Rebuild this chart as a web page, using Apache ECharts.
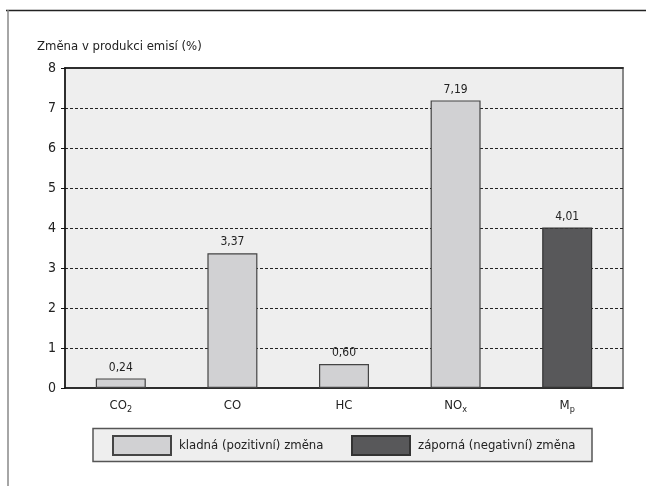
<!DOCTYPE html>
<html>
<head>
<meta charset="utf-8">
<script src="https://cdn.jsdelivr.net/npm/echarts@6/dist/echarts.min.js"></script>
<style>
  html, body { margin: 0; padding: 0; background: #fff; }
  #chart { width: 646px; height: 486px; }
</style>
</head>
<body>
<div id="chart"></div>
<script>
// Emission categories (rich-text keys give the subscripts)
const categories = ['CO{s|2}', 'CO', 'HC', 'NO{s|x}', 'M{s|p}'];
// Positive change (%) per category; '-' where the category is negative
const positiveValues = [0.24, 3.37, 0.60, 7.19, '-'];
// Negative change (%) shown as magnitude
const negativeValues = ['-', '-', '-', '-', 4.01];
const yTicks = [0, 1, 2, 3, 4, 5, 6, 7, 8];
const seriesNames = ['kladná (pozitivní) změna', 'záporná (negativní) změna'];
const axisTitle = 'Změna v produkci emisí (%)';

const FONT = "'DejaVu Sans Condensed', 'Liberation Sans Narrow', 'Roboto', sans-serif";
const chart = echarts.init(document.getElementById('chart'), null, { renderer: 'canvas' });

const valueLabel = {
  show: true,
  position: 'top',
  distance: 5,
  color: '#222',
  fontFamily: FONT,
  fontSize: 12,
  formatter: p => Number(p.value).toFixed(2).replace('.', ',')
};

chart.setOption({
  backgroundColor: '#ffffff',
  animation: false,
  textStyle: { fontFamily: FONT },
  title: {
    text: axisTitle,
    left: 37,
    top: 40,
    padding: 0,
    textStyle: { fontFamily: FONT, fontSize: 13, fontWeight: 'normal', color: '#222' }
  },
  graphic: [
    // outer frame: top rule and left rule
    { type: 'line', shape: { x1: 6, y1: 10.5, x2: 646, y2: 10.5 }, style: { stroke: '#222', lineWidth: 1.5 }, z: 0 },
    { type: 'line', shape: { x1: 8, y1: 10, x2: 8, y2: 486 }, style: { stroke: '#888', lineWidth: 1.5 }, z: 0 },
    // legend box
    { type: 'rect', shape: { x: 93, y: 428.5, width: 499, height: 33 }, style: { fill: '#eeeeee', stroke: '#555', lineWidth: 1.5 }, z: 0 }
  ],
  legend: [
    {
      data: [seriesNames[0]], left: 112, top: 435, padding: 0, itemWidth: 58, itemHeight: 19,
      icon: 'rect', textStyle: { fontFamily: FONT, fontSize: 13, color: '#222', padding: [0, 0, 0, 3] }
    },
    {
      data: [seriesNames[1]], left: 351, top: 435, padding: 0, itemWidth: 58, itemHeight: 19,
      icon: 'rect', textStyle: { fontFamily: FONT, fontSize: 13, color: '#222', padding: [0, 0, 0, 3] }
    }
  ],
  grid: {
    left: 65, right: 23, top: 68, bottom: 98,
    show: true, backgroundColor: '#eeeeee', borderColor: '#888', borderWidth: 2
  },
  xAxis: [
    {
      type: 'category',
      data: categories,
      axisLine: { show: true, lineStyle: { color: '#111', width: 1.5 } },
      axisTick: { show: false },
      axisLabel: {
        margin: 10,
        color: '#222',
        fontFamily: FONT,
        fontSize: 13,
        lineHeight: 16,
        rich: {
          s: { fontSize: 9, fontFamily: FONT, color: '#222', verticalAlign: 'bottom', lineHeight: 16 }
        }
      }
    },
    {
      type: 'category',
      position: 'top',
      data: categories,
      axisLine: { show: true, lineStyle: { color: '#111', width: 1.5 } },
      axisTick: { show: false },
      axisLabel: { show: false }
    }
  ],
  yAxis: {
    type: 'value',
    min: yTicks[0],
    max: yTicks[yTicks.length - 1],
    interval: 1,
    axisLine: { show: true, lineStyle: { color: '#111', width: 1.5 } },
    axisTick: { show: true, length: 4, lineStyle: { color: '#111' } },
    axisLabel: { margin: 9, color: '#222', fontFamily: FONT, fontSize: 14 },
    splitLine: {
      show: true,
      showMinLine: false,
      showMaxLine: false,
      lineStyle: { color: '#222', width: 1, type: [3, 2] }
    }
  },
  series: [
    {
      name: seriesNames[0],
      type: 'bar',
      stack: 'change',
      barWidth: 50,
      data: positiveValues,
      itemStyle: { color: '#d1d1d3', borderColor: '#444', borderWidth: 1.2 },
      label: valueLabel
    },
    {
      name: seriesNames[1],
      type: 'bar',
      stack: 'change',
      barWidth: 50,
      data: negativeValues,
      itemStyle: { color: '#58585a', borderColor: '#333', borderWidth: 1.2 },
      label: valueLabel
    }
  ]
});
</script>
</body>
</html>
